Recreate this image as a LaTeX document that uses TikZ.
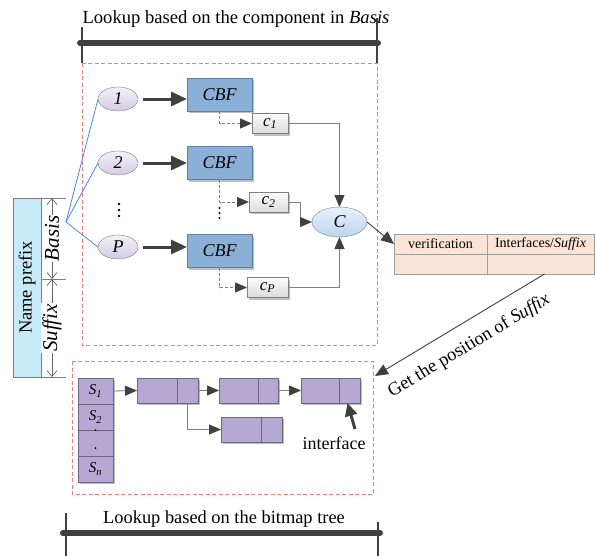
\documentclass[tikz,border=0pt]{standalone}
\usepackage{fontspec}
\setmainfont{Liberation Serif}
\usetikzlibrary{arrows.meta,shadows,shapes.geometric}

\definecolor{darkline}{HTML}{404040}
\definecolor{greyline}{HTML}{7F7F7F}
\definecolor{dashred}{HTML}{F07C7C}
\definecolor{cbffill}{HTML}{8AB0D8}
\definecolor{cbfedge}{HTML}{5E7FA6}
\definecolor{lavtop}{HTML}{F4F1F9}
\definecolor{lavbot}{HTML}{D3CBE2}
\definecolor{ctop}{HTML}{E8F2FB}
\definecolor{cbot}{HTML}{BCD5EC}
\definecolor{keytop}{HTML}{FBFBFB}
\definecolor{keybot}{HTML}{DCDCDC}
\definecolor{tabfill}{HTML}{FBE4D5}
\definecolor{tabedge}{HTML}{A0A0A0}
\definecolor{prefixfill}{HTML}{C6EAF8}
\definecolor{listfill}{HTML}{B5A8D2}
\definecolor{listedge}{HTML}{6D6582}
\definecolor{linkblue}{HTML}{4A86E8}
\newcommand\setfs[1]{\fontsize{#1}{#1}\selectfont}

\begin{document}
\begin{tikzpicture}[x=1pt,y=-1pt,
  every node/.style={outer sep=0pt},
  bannerbar/.style={line width=6pt, darkline, line cap=round},
  bannertick/.style={line width=2pt, darkline},
  redbox/.style={draw=dashred, dash pattern=on 4pt off 2.5pt, line width=0.9pt},
  shadowed/.style={drop shadow={shadow xshift=2pt, shadow yshift=-2pt, opacity=.25, fill=black}},
  leafnode/.style={ellipse, draw=greyline, top color=lavtop, bottom color=lavbot,
    minimum width=40pt, minimum height=24pt, inner sep=0pt, font=\setfs{18}\itshape},
  cbfbox/.style={draw=cbfedge, fill=cbffill, minimum width=65pt, minimum height=33pt,
    inner sep=0pt, font=\setfs{18}\itshape, shadowed},
  keybox/.style={draw=greyline, top color=keytop, bottom color=keybot, minimum height=20pt,
    inner sep=0pt, font=\setfs{17}\itshape, anchor=east, shadowed},
  collector/.style={ellipse, draw=greyline, top color=ctop, bottom color=cbot,
    minimum width=55pt, minimum height=30pt, inner sep=0pt, font=\setfs{18}\itshape},
  tabcell/.style={draw=tabedge, fill=tabfill, minimum height=20pt, inner sep=0pt,
    anchor=north west, font=\setfs{14}},
  prefixbox/.style={draw=greyline, fill=prefixfill, rotate=90, minimum width=179pt,
    minimum height=28pt, inner sep=0pt, font=\setfs{18.5}},
  slotbox/.style={draw=listedge, fill=listfill, minimum width=35pt, minimum height=26pt,
    inner sep=0pt, font=\setfs{15}\itshape, shadowed},
  listpart/.style={draw=listedge, fill=listfill, minimum height=25pt, inner sep=0pt,
    anchor=north west, shadowed},
  heavyarrow/.style={line width=3pt, darkline, -{Triangle[length=16pt,width=14pt]}},
  thinarrow/.style={line width=0.9pt, greyline,
    -{Triangle[length=12pt,width=10pt,color=darkline]}},
  darkarrow/.style={line width=0.9pt, darkline, -{Triangle[length=13pt,width=11pt]}},
  dashlink/.style={thinarrow, dash pattern=on 3pt off 2pt},
  dimtick/.style={line width=0.7pt, greyline},
  dimarrow/.style={line width=0.7pt, darkline!80,
    {Straight Barb[length=6pt,width=10pt]}-{Straight Barb[length=6pt,width=10pt]}},
  dimlabel/.style={midway, rotate=90, fill=white, text=black, inner sep=1pt,
    font=\setfs{21}\itshape},
  bluelink/.style={line width=0.8pt, linkblue}]
\useasboundingbox (0,0) rectangle (596,555);

% ---- upper stage: component lookup
\node[font=\setfs{18.6}] (toptxt) at (236,19) {Lookup based on the component in \textit{Basis}};
\draw[bannerbar] (80,43) -- (378,43);
\draw[bannertick] (82,27) -- (82,63);
\draw[bannertick] (377,18) -- (377,63);
\draw[redbox] (82,63) rectangle (377,345);

\node[leafnode] (l1) at (118,99) {1};
\node[leafnode] (l2) at (118,163) {2};
\node[leafnode] (lp) at (118,247) {P};
\foreach \y in {204,210,216} \fill[black] (119,\y) circle (1.4pt);

\node[cbfbox] (f1) at (219.5,94.5) {CBF};
\node[cbfbox] (f2) at (219.5,163) {CBF};
\node[cbfbox] (fp) at (219.5,251) {CBF};

\draw[heavyarrow, shorten <=5pt] (l1.east) -- (l1.east -| f1.west);
\draw[heavyarrow, shorten <=5pt] (l2.east) -- (l2.east -| f2.west);
\draw[heavyarrow, shorten <=5pt] (lp.east) -- (lp.east -| fp.west);

\node[keybox, minimum width=36pt] (k1) at (288,123.5) {c\textsubscript{1}};
\node[keybox, minimum width=39pt] (k2) at (288,202) {c\textsubscript{2}};
\node[keybox, minimum width=41pt] (kp) at (288,287.5) {c\textsubscript{P}};

\draw[dashlink] (f1.south) |- (k1.west);
\draw[dashlink] (f2.south) |- (k2.west);
\draw[dashlink] (fp.south) |- (kp.west);
\foreach \y in {208,213,218} \fill[black] (219.5,\y) circle (1.2pt);

\node[collector] (cc) at (339.5,222) {C};
\draw[thinarrow] (k1.east) -| (cc.north);
\draw[thinarrow] (k2.east) -- ++(12,0) |- (cc.west);
\draw[thinarrow] (kp.east) -| (cc.south);

% ---- verification table
\node[tabcell, minimum width=93pt] (tv) at (394,234) {verification};
\node[tabcell, minimum width=107pt] (ti) at (tv.north east) {Interfaces/\textit{Suffix}};
\node[tabcell, minimum width=93pt] (bv) at (tv.south west) {};
\node[tabcell, minimum width=107pt] (bi) at (ti.south west) {};
\draw[darkarrow] (cc.east) -- (tv.west);

% ---- name prefix with its two parts
\node[prefixbox] (np) at (27,287.5) {Name prefix};
\foreach \y in {198,279,377} \draw[dimtick] (41,\y) -- (66,\y);
\draw[dimarrow] (52,198) -- (52,279) node[dimlabel] {Basis};
\draw[dimarrow] (52,279) -- (52,377) node[dimlabel] {Suffix};
\coordinate (hub) at (66,222);
\draw[bluelink] (hub) -- (l1.west);
\draw[bluelink] (hub) -- (l2.west);
\draw[bluelink] (hub) -- (lp.west);

% ---- lower stage: bitmap tree
\draw[redbox] (72,361) rectangle (373,494);

\node[slotbox] (s1) at (95.5,391) {S\textsubscript{1}};
\node[slotbox, anchor=north] (s2) at (s1.south) {S\textsubscript{2}};
\node[slotbox, anchor=north] (s3) at (s2.south) {};
\node[slotbox, anchor=north] (s4) at (s3.south) {S\textsubscript{n}};
\fill[black] (s2.south) circle (1pt);
\fill[black] ([yshift=-5pt]s3.center) circle (1pt);

\node[listpart, minimum width=40pt] (aL) at (137,378) {};
\node[listpart, minimum width=21pt] (aR) at (aL.north east) {};
\node[listpart, minimum width=39pt] (bL) at (219,378) {};
\node[listpart, minimum width=20pt] (bR) at (bL.north east) {};
\node[listpart, minimum width=38pt] (cL) at (301,378) {};
\node[listpart, minimum width=21pt] (cR) at (cL.north east) {};
\node[listpart, minimum width=40pt] (dL) at (221,417) {};
\node[listpart, minimum width=21pt] (dR) at (dL.north east) {};

\draw[thinarrow] (s1.east) -- (aL.west);
\draw[thinarrow] (aR.east) -- (bL.west);
\draw[thinarrow] (bR.east) -- (cL.west);
\draw[thinarrow] (aR.south) |- (dL.west);

\node[font=\setfs{18}, inner sep=0pt] (intf) at (334,443.5) {interface};
\draw[line width=3pt, darkline, -{Triangle[length=13pt,width=12pt]}]
  ([xshift=21pt,yshift=8pt]intf.north) -- ([xshift=-2pt]cR.south);

% ---- table to bitmap tree
\coordinate (gp) at (375,376);
\draw[darkarrow] ([xshift=4pt]bi.south) -- (gp);
\node[rotate=31, font=\setfs{18.5}] (gplabel) at (469,346) {Get the position of \textit{Suffix}};

% ---- bottom banner
\node[font=\setfs{18.4}] (bottxt) at (224,519) {Lookup based on the bitmap tree};
\draw[bannerbar] (63,533) -- (380,533);
\draw[bannertick] (66,513) -- (66,556);
\draw[bannertick] (378,522) -- (378,556);
\end{tikzpicture}
\end{document}
